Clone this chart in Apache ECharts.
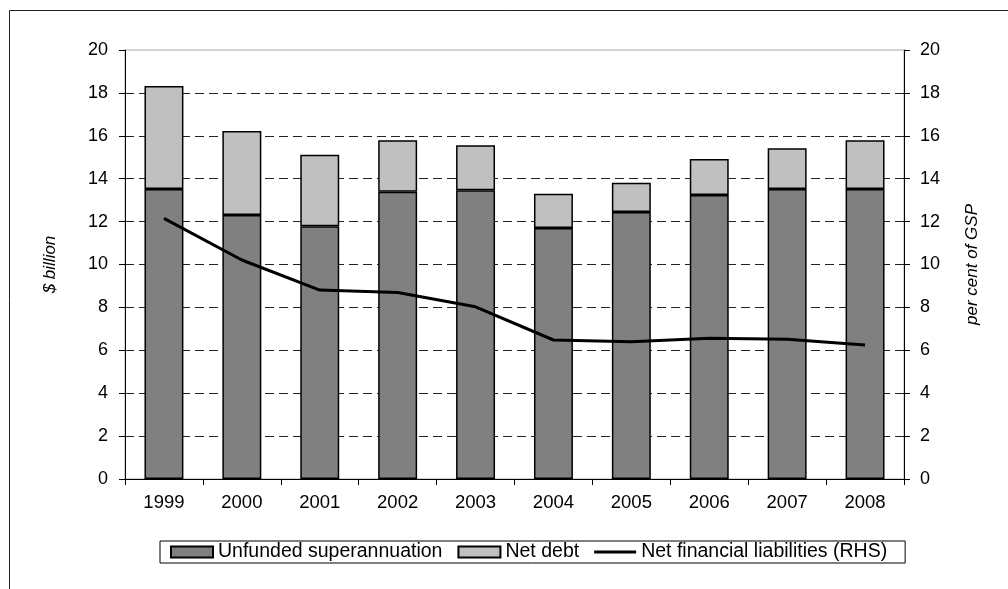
<!DOCTYPE html>
<html>
<head>
<meta charset="utf-8">
<title>Net financial liabilities</title>
<script src="https://cdn.jsdelivr.net/npm/echarts@6/dist/echarts.min.js"></script>
<style>
  html, body { margin: 0; padding: 0; background: #fff; }
  #chart { width: 1008px; height: 589px; }
</style>
</head>
<body>
<div id="chart"></div>
<script>
// Financial years
const years = ['1999', '2000', '2001', '2002', '2003', '2004', '2005', '2006', '2007', '2008'];

// $ billion (stacked bars)
const unfundedSuper = [13.52, 12.31, 11.78, 13.39, 13.46, 11.70, 12.45, 13.24, 13.52, 13.52];
const netDebt = [4.80, 3.91, 3.34, 2.40, 2.10, 1.60, 1.36, 1.68, 1.90, 2.27];

// per cent of GSP (right-hand axis)
const netFinLiab = [12.15, 10.21, 8.81, 8.69, 8.03, 6.48, 6.40, 6.56, 6.51, 6.25];

const FONT = '"Liberation Sans", Arial, sans-serif';

// thin horizontal stroke used as the line series' legend key
const LINE_KEY = 'path://M0,0M0,4H42V7H0ZM42,11';

const chart = echarts.init(document.getElementById('chart'), null, { renderer: 'canvas' });

const valueAxisBase = {
  type: 'value',
  min: 0,
  max: 20,
  interval: 2,
  nameLocation: 'middle',
  nameRotate: 90,
  nameTextStyle: { fontFamily: FONT, fontSize: 17, fontStyle: 'italic', color: '#000' },
  axisLine: { show: true, lineStyle: { color: '#000', width: 1 } },
  axisTick: { show: true, length: 6, lineStyle: { color: '#000' } },
  axisLabel: { fontFamily: FONT, fontSize: 18, color: '#000' }
};

chart.setOption({
  animation: false,
  backgroundColor: '#fff',
  graphic: [{
    type: 'rect',
    shape: { x: 9.5, y: 10.5, width: 1100, height: 700 },
    style: { fill: 'none', stroke: '#222', lineWidth: 1 },
    silent: true
  }],
  grid: {
    left: 125, right: 104, top: 50, bottom: 110,
    show: true, borderColor: '#a8a8a8', borderWidth: 1, backgroundColor: 'transparent'
  },
  legend: {
    left: 160,
    top: 541,
    itemWidth: 42,
    itemHeight: 11,
    itemGap: 15,
    padding: [1, 18, 1, 10],
    borderColor: '#000',
    borderWidth: 1,
    borderRadius: 0,
    backgroundColor: '#fff',
    textStyle: { fontFamily: FONT, fontSize: 19.5, color: '#000' },
    data: [
      { name: 'Unfunded superannuation', icon: 'rect' },
      { name: 'Net debt', icon: 'rect' },
      { name: 'Net financial liabilities (RHS)', icon: LINE_KEY }
    ]
  },
  xAxis: {
    type: 'category',
    data: years,
    boundaryGap: true,
    axisLine: { lineStyle: { color: '#000', width: 1 } },
    axisTick: { show: true, length: 6, alignWithLabel: false, lineStyle: { color: '#000' } },
    axisLabel: { fontFamily: FONT, fontSize: 18.5, color: '#000', margin: 14 }
  },
  yAxis: [
    Object.assign({}, valueAxisBase, {
      position: 'left',
      name: '$ billion',
      nameGap: 66,
      axisLabel: Object.assign({}, valueAxisBase.axisLabel, { margin: 17 }),
      splitLine: {
        show: true, showMinLine: false, showMaxLine: false,
        lineStyle: { color: '#222', type: [9, 5], width: 1 }
      }
    }),
    Object.assign({}, valueAxisBase, {
      position: 'right',
      name: 'per cent of GSP',
      nameGap: 60,
      axisLabel: Object.assign({}, valueAxisBase.axisLabel, { margin: 16 }),
      splitLine: { show: false }
    })
  ],
  series: [
    {
      name: 'Unfunded superannuation',
      type: 'bar',
      stack: 'liab',
      barWidth: '50%',
      data: unfundedSuper,
      itemStyle: { color: '#808080', borderColor: '#000', borderWidth: 1.5 }
    },
    {
      name: 'Net debt',
      type: 'bar',
      stack: 'liab',
      barWidth: '50%',
      data: netDebt,
      itemStyle: { color: '#c0c0c0', borderColor: '#000', borderWidth: 1.5 }
    },
    {
      name: 'Net financial liabilities (RHS)',
      type: 'line',
      yAxisIndex: 1,
      data: netFinLiab,
      symbol: 'none',
      lineStyle: { color: '#000', width: 3 },
      itemStyle: { color: '#000' }
    }
  ]
});
</script>
</body>
</html>
